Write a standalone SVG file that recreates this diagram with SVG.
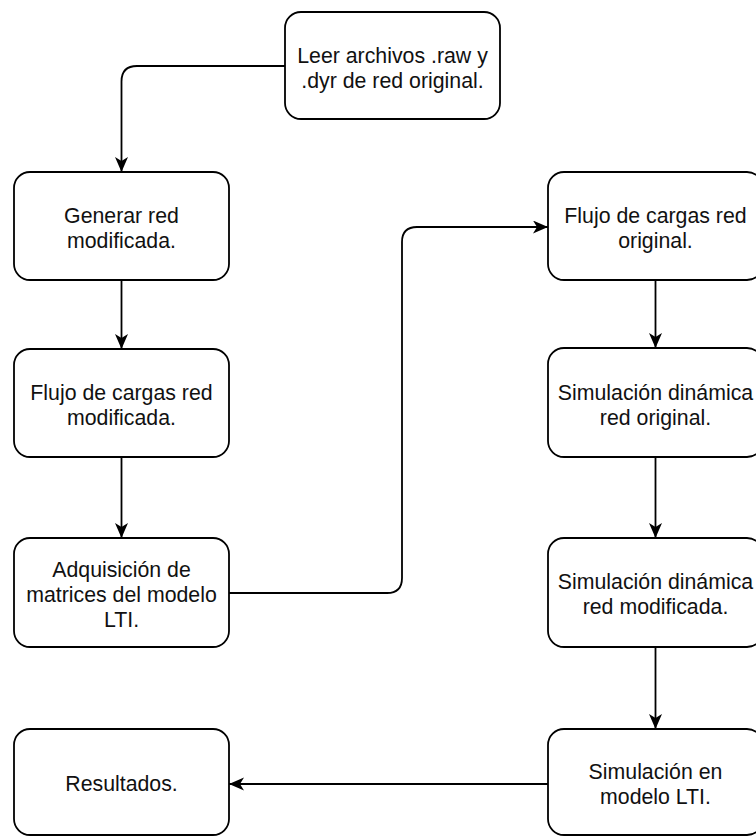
<svg xmlns="http://www.w3.org/2000/svg" width="756" height="837" viewBox="0 0 756 837">
<style>
.box{fill:#fff;stroke:#000;stroke-width:1.8}
.lbl{font-family:"Liberation Sans",Arial,sans-serif;font-size:21.3px;fill:#111;text-anchor:middle}
.edge{fill:none;stroke:#000;stroke-width:1.8}
</style>
<defs>
<marker id="arr" markerUnits="userSpaceOnUse" markerWidth="16" markerHeight="14" refX="15" refY="6.5" orient="auto">
<path d="M0,0 L15,6.5 L0,13 L4,6.5 Z" fill="#000"/>
</marker>
</defs>
<rect width="756" height="837" fill="#fff"/>
<g id="connectors">
<path class="edge" d="M285,66 H137 Q121.5,66 121.5,81.5 V172" marker-end="url(#arr)"/>
<path class="edge" d="M121.5,280 V349" marker-end="url(#arr)"/>
<path class="edge" d="M121.5,457 V538" marker-end="url(#arr)"/>
<path class="edge" d="M229,593 H387 Q402,593 402,578 V242 Q402,227 417,227 H548" marker-end="url(#arr)"/>
<path class="edge" d="M655.5,280 V348" marker-end="url(#arr)"/>
<path class="edge" d="M655.5,457 V538" marker-end="url(#arr)"/>
<path class="edge" d="M655.5,647 V729" marker-end="url(#arr)"/>
<path class="edge" d="M548,784 H229" marker-end="url(#arr)"/>
</g>
<g id="n_leer">
<rect class="box" x="285" y="12" width="215" height="107" rx="16"/>
<text class="lbl" x="392.5" y="62.5">Leer archivos .raw y</text>
<text class="lbl" x="392.5" y="87.5">.dyr de red original.</text>
</g>
<g id="n_generar">
<rect class="box" x="14" y="172" width="215" height="108" rx="16"/>
<text class="lbl" x="121.5" y="223">Generar red</text>
<text class="lbl" x="121.5" y="248">modificada.</text>
</g>
<g id="n_flujo_mod">
<rect class="box" x="14" y="349" width="215" height="108" rx="16"/>
<text class="lbl" x="121.5" y="400">Flujo de cargas red</text>
<text class="lbl" x="121.5" y="425">modificada.</text>
</g>
<g id="n_adq">
<rect class="box" x="14" y="538" width="215" height="109" rx="16"/>
<text class="lbl" x="121.5" y="577">Adquisición de</text>
<text class="lbl" x="121.5" y="602">matrices del modelo</text>
<text class="lbl" x="121.5" y="627">LTI.</text>
</g>
<g id="n_resultados">
<rect class="box" x="14" y="729" width="215" height="106" rx="16"/>
<text class="lbl" x="121.5" y="791">Resultados.</text>
</g>
<g id="n_flujo_orig">
<rect class="box" x="548" y="172" width="215" height="108" rx="16"/>
<text class="lbl" x="655.5" y="223">Flujo de cargas red</text>
<text class="lbl" x="655.5" y="248">original.</text>
</g>
<g id="n_sim_orig">
<rect class="box" x="548" y="348" width="215" height="109" rx="16"/>
<text class="lbl" x="655.5" y="400">Simulación dinámica</text>
<text class="lbl" x="655.5" y="425">red original.</text>
</g>
<g id="n_sim_mod">
<rect class="box" x="548" y="538" width="215" height="109" rx="16"/>
<text class="lbl" x="655.5" y="589">Simulación dinámica</text>
<text class="lbl" x="655.5" y="614">red modificada.</text>
</g>
<g id="n_sim_lti">
<rect class="box" x="548" y="729" width="215" height="106" rx="16"/>
<text class="lbl" x="655.5" y="779">Simulación en</text>
<text class="lbl" x="655.5" y="804">modelo LTI.</text>
</g>
</svg>
